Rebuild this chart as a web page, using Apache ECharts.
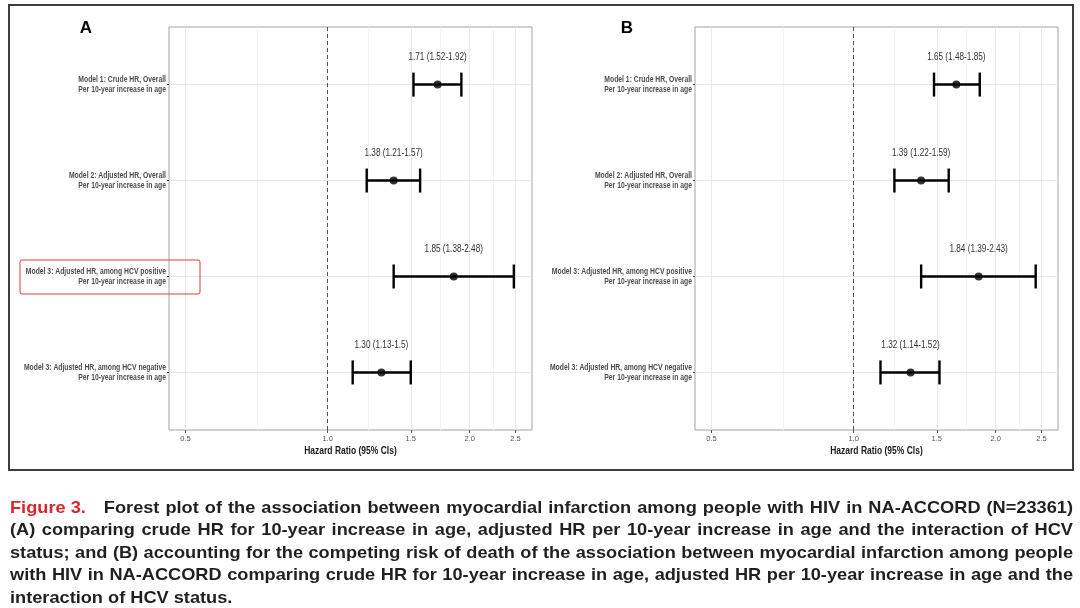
<!DOCTYPE html>
<html><head><meta charset="utf-8">
<script src="https://cdn.jsdelivr.net/npm/echarts@6/dist/echarts.min.js"></script>
<style>html,body{margin:0;padding:0;background:#fff}#c{width:1080px;height:608px}</style>
</head><body><div id="c"></div>
<script>
// ---- data ----
const categories = [
  'Model 1: Crude HR, Overall\nPer 10-year increase in age',
  'Model 2: Adjusted HR, Overall\nPer 10-year increase in age',
  'Model 3: Adjusted HR, among HCV positive\nPer 10-year increase in age',
  'Model 3: Adjusted HR, among HCV negative\nPer 10-year increase in age'
];
const hrA   = [1.71, 1.38, 1.85, 1.30];
const lowA  = [1.52, 1.21, 1.38, 1.13];
const highA = [1.92, 1.57, 2.48, 1.5];
const hrB   = [1.65, 1.39, 1.84, 1.32];
const lowB  = [1.48, 1.22, 1.39, 1.14];
const highB = [1.85, 1.59, 2.43, 1.52];
const xTicks = [0.5, 1.0, 1.5, 2.0, 2.5];
const refValue = 1.0;
const panelLetters = ['A', 'B'];
const axisTitle = 'Hazard Ratio (95% CIs)';
const captionLines = [
  'Figure 3.|Forest plot of the association between myocardial infarction among people with HIV in NA-ACCORD (N=23361)',
  '(A) comparing crude HR for 10-year increase in age, adjusted HR per 10-year increase in age and the interaction of HCV',
  'status; and (B) accounting for the competing risk of death of the association between myocardial infarction among people',
  'with HIV in NA-ACCORD comparing crude HR for 10-year increase in age, adjusted HR per 10-year increase in age and the',
  'interaction of HCV status.'
];

// ---- helpers ----
const SANS = "'Liberation Sans', Arial, sans-serif";
const rows = categories.map((c, i) => i + 1);
const lmin = Math.log(xTicks[0]), lmax = Math.log(xTicks[xTicks.length - 1]);
const pad = (lmax - lmin) * 0.05;
const xMin = Math.exp(lmin - pad), xMax = Math.exp(lmax + pad);
const minorTicks = xTicks.slice(1).map((t, i) => Math.sqrt(t * xTicks[i]));

const grids = [
  { left: 169, right: 548, top: 27, bottom: 178 },
  { left: 695, right: 22, top: 27, bottom: 178 }
];

function renderBar(params, api) {
  const lo = api.value(0), hi = api.value(1), hr = api.value(2), row = api.value(3);
  const p0 = api.coord([lo, row]), p1 = api.coord([hi, row]), pm = api.coord([hr, row]);
  const st = { stroke: '#000', lineWidth: 2.4 };
  const label = hr.toFixed(2) + ' (' + String(lo) + '-' + String(hi) + ')';
  return {
    type: 'group',
    children: [
      { type: 'line', shape: { x1: p0[0], y1: p0[1], x2: p1[0], y2: p1[1] }, style: st },
      { type: 'line', shape: { x1: p0[0], y1: p0[1] - 12, x2: p0[0], y2: p0[1] + 12 }, style: st },
      { type: 'line', shape: { x1: p1[0], y1: p1[1] - 12, x2: p1[0], y2: p1[1] + 12 }, style: st },
      { type: 'text', x: pm[0], y: pm[1] - 27, scaleX: 0.82,
        style: { text: label, x: 0, y: 0, align: 'center', verticalAlign: 'middle',
          font: '10px ' + SANS, fill: '#333' } }
    ]
  };
}

function renderRowLabel(params, api) {
  const row = api.value(0);
  const p = api.coord([xMin, row]);
  return {
    type: 'text', x: p[0] - 3, y: p[1], scaleX: 0.8,
    style: { text: categories[params.dataIndex], x: 0, y: 0, align: 'right', verticalAlign: 'middle',
      font: 'bold 8.5px ' + SANS, fill: '#4d4d4d', lineHeight: 10 }
  };
}

function renderTitle(params, api) {
  const pl = api.coord([xMin, 4.6]), pr = api.coord([xMax, 4.6]);
  return {
    type: 'text', x: (pl[0] + pr[0]) / 2, y: pl[1] + 21, scaleX: 0.85,
    style: { text: axisTitle, x: 0, y: 0, align: 'center', verticalAlign: 'middle',
      font: 'bold 10px ' + SANS, fill: '#1a1a1a' }
  };
}

const xAxes = [], yAxes = [], series = [];
[[hrA, lowA, highA], [hrB, lowB, highB]].forEach((set, gi) => {
  const [hr, lo, hi] = set;
  xAxes.push({
    gridIndex: gi, type: 'log', logBase: 10, min: xMin, max: xMax,
    axisLine: { show: false },
    axisTick: { show: true, customValues: xTicks, length: 3, lineStyle: { color: '#555' } },
    axisLabel: { customValues: xTicks, formatter: v => Number(v).toFixed(1), fontSize: 7.5,
      fontFamily: SANS, color: '#555', margin: 5 },
    splitLine: { show: false }, minorTick: { show: false }, minorSplitLine: { show: false }
  });
  yAxes.push({
    gridIndex: gi, type: 'value', inverse: true, min: 0.4, max: 4.6,
    axisLine: { show: false },
    axisTick: { show: true, customValues: rows, length: 2, lineStyle: { color: '#333' } },
    axisLabel: { show: false },
    splitLine: { show: false }
  });
  const gridLines = [];
  minorTicks.forEach(v => gridLines.push({ xAxis: v, lineStyle: { color: '#f0f0f0', width: 0.8, type: 'solid' } }));
  xTicks.forEach(v => gridLines.push({ xAxis: v, lineStyle: { color: '#e8e8e8', width: 1, type: 'solid' } }));
  rows.forEach(v => gridLines.push({ yAxis: v, lineStyle: { color: '#e8e8e8', width: 1, type: 'solid' } }));
  gridLines.push({ xAxis: refValue, lineStyle: { color: '#555', width: 1, type: [4, 3] } });
  series.push({
    type: 'line', xAxisIndex: gi, yAxisIndex: gi, data: [], z: 1, silent: true,
    markLine: { z: 1, silent: true, symbol: ['none', 'none'], label: { show: false }, animation: false,
      emphasis: { disabled: true }, data: gridLines }
  });
  series.push({
    type: 'custom', xAxisIndex: gi, yAxisIndex: gi, z: 10, silent: true,
    dimensions: ['lo', 'hi', 'hr', 'row'],
    encode: { x: [0, 1, 2], y: 3 },
    data: rows.map((r, i) => [lo[i], hi[i], hr[i], r]),
    renderItem: renderBar
  });
  series.push({
    type: 'scatter', xAxisIndex: gi, yAxisIndex: gi, z: 11, silent: true,
    symbol: 'circle', symbolSize: 8, itemStyle: { color: '#000' },
    data: rows.map((r, i) => [hr[i], r])
  });
  series.push({
    type: 'custom', xAxisIndex: gi, yAxisIndex: gi, z: 10, silent: true, clip: false,
    dimensions: ['row'], encode: { y: 0 },
    data: rows.map(r => [r]),
    renderItem: renderRowLabel
  });
  series.push({
    type: 'custom', xAxisIndex: gi, yAxisIndex: gi, z: 10, silent: true, clip: false,
    data: [[0]],
    renderItem: renderTitle
  });
});

// ---- graphic: frame, letters, highlight box, caption ----
const graphic = [
  { type: 'rect', shape: { x: 9, y: 5, width: 1064, height: 465 }, style: { fill: 'none', stroke: '#3d3d3d', lineWidth: 2 }, silent: true },
  { type: 'rect', shape: { x: 20, y: 260, width: 180, height: 34, r: 2 }, style: { fill: 'none', stroke: '#e23b3b', lineWidth: 1 }, silent: true, z: 10 },
  { type: 'text', x: 86, y: 28, style: { text: panelLetters[0], font: "bold 17px " + SANS, fill: '#000', align: 'center', verticalAlign: 'middle', textAlign: 'center', textVerticalAlign: 'middle' } },
  { type: 'text', x: 627, y: 28, style: { text: panelLetters[1], font: "bold 17px " + SANS, fill: '#000', align: 'center', verticalAlign: 'middle', textAlign: 'center', textVerticalAlign: 'middle' } }
];
const capFont = "bold 17px " + SANS;
const capScale = 1.07;
const ctx = document.createElement('canvas').getContext('2d');
ctx.font = capFont;
const capLeft = 10, capRight = 1073, capY0 = 508, capStep = 22.5, figGap = 12;
captionLines.forEach((line, li) => {
  let tokens;
  let red = -1;
  if (line.indexOf('|') >= 0) {
    const parts = line.split('|');
    tokens = [parts[0]].concat(parts[1].split(' '));
    red = 0;
  } else tokens = line.split(' ');
  const widths = tokens.map(t => ctx.measureText(t).width * capScale);
  const extra = red === 0 ? figGap : 0;
  const total = widths.reduce((a, b) => a + b, 0) + extra;
  const justify = li < captionLines.length - 1;
  const gap = justify ? (capRight - capLeft - total) / (tokens.length - 1) : ctx.measureText(' ').width * capScale;
  let x = capLeft;
  tokens.forEach((t, i) => {
    graphic.push({ type: 'text', x: x, y: capY0 + li * capStep, scaleX: capScale, silent: true,
      style: { text: t, font: capFont, fill: i === red ? '#d7262e' : '#231f20', verticalAlign: 'middle', textVerticalAlign: 'middle' } });
    x += widths[i] + gap + (i === red ? extra : 0);
  });
});

const option = {
  animation: false,
  backgroundColor: '#fff',
  grid: grids.map(g => Object.assign({ show: true, borderColor: '#a3a3a3', borderWidth: 1,
    backgroundColor: 'transparent', containLabel: false, outerBoundsMode: 'none' }, g)),
  xAxis: xAxes,
  yAxis: yAxes,
  series: series,
  graphic: graphic
};
const chart = echarts.init(document.getElementById('c'), null, { renderer: 'canvas' });
chart.setOption(option);
</script>
</body></html>
